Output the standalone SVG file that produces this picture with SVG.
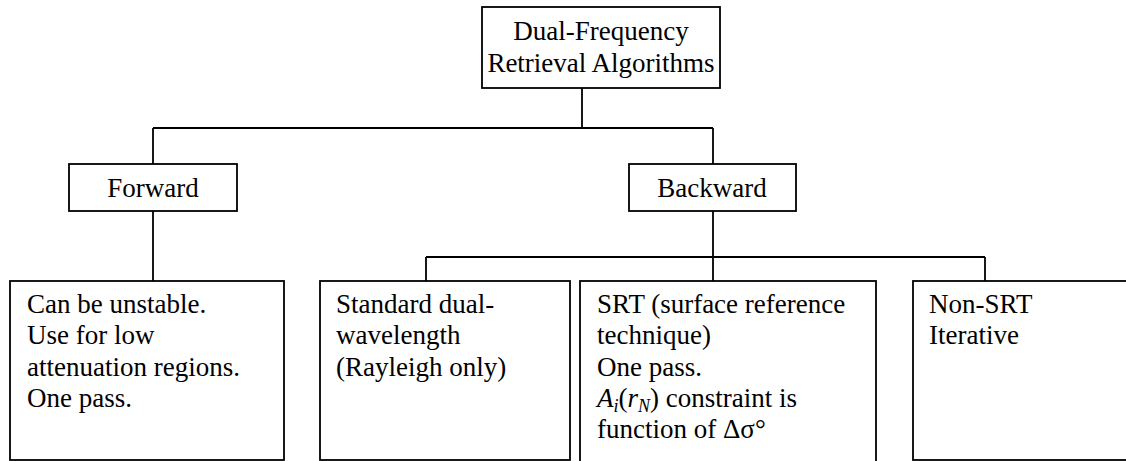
<svg xmlns="http://www.w3.org/2000/svg" width="1126" height="461" viewBox="0 0 1126 461" font-family="'Liberation Serif', 'DejaVu Serif', serif" font-size="27">
<style>
.box{fill:#fff;stroke:#000;stroke-width:1.8}
.ln{fill:none;stroke:#000;stroke-width:1.8}
text{font-family:'Liberation Serif','DejaVu Serif',serif;font-size:27px;fill:#000}
.c{text-anchor:middle}
</style>
<rect width="1126" height="461" fill="#fff"/>
<g id="connectors">
<path class="ln" d="M582,88 V128 M153,128 H713 M153,128 V164 M713,128 V164"/>
<path class="ln" d="M153,211 V281 M713,211 V281 M426,257 H985 M426,257 V281 M985,257 V281"/>
</g>
<g id="root">
<rect class="box" x="482" y="7" width="238" height="81"/>
<text class="c" x="601" y="40">Dual-Frequency</text>
<text class="c" x="601" y="72">Retrieval Algorithms</text>
</g>
<g id="forward">
<rect class="box" x="69" y="164" width="168" height="47"/>
<text class="c" x="153" y="197">Forward</text>
</g>
<g id="backward">
<rect class="box" x="629" y="164" width="167" height="47"/>
<text class="c" x="712" y="197">Backward</text>
</g>
<g id="forward-notes">
<rect class="box" x="10" y="281" width="274" height="179"/>
<text x="27" y="313">Can be unstable.</text>
<text x="27" y="344">Use for low</text>
<text x="27" y="376">attenuation regions.</text>
<text x="27" y="407">One pass.</text>
</g>
<g id="standard">
<rect class="box" x="320" y="281" width="250" height="179"/>
<text x="336" y="313">Standard dual-</text>
<text x="336" y="344">wavelength</text>
<text x="336" y="376">(Rayleigh only)</text>
</g>
<g id="srt">
<rect class="box" x="580" y="281" width="296" height="185"/>
<text x="597" y="313">SRT (surface reference</text>
<text x="597" y="344">technique)</text>
<text x="597" y="376">One pass.</text>
<text x="597" y="407"><tspan font-style="italic">A</tspan><tspan font-style="italic" font-size="18" dy="5">i</tspan><tspan dy="-5">(</tspan><tspan font-style="italic">r</tspan><tspan font-style="italic" font-size="18" dy="5">N</tspan><tspan dy="-5">) constraint is</tspan></text>
<text x="597" y="438">function of Δσ°</text>
</g>
<g id="non-srt">
<rect class="box" x="913" y="281" width="220" height="179"/>
<text x="929" y="313">Non-SRT</text>
<text x="929" y="344">Iterative</text>
</g>
</svg>
